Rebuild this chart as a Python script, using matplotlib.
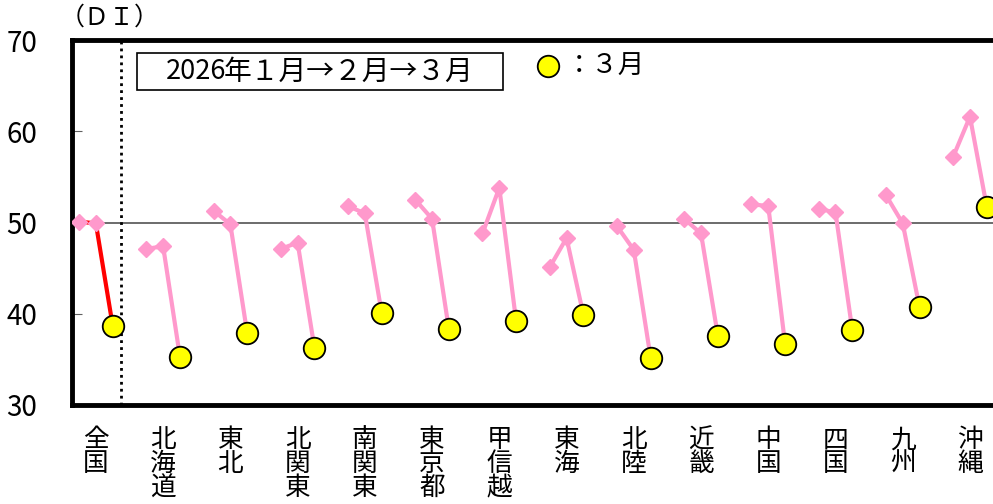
import numpy as np
import matplotlib as mpl
mpl.use('Agg')
import matplotlib.pyplot as plt
from matplotlib.patches import Rectangle

plt.rcParams['font.family'] = ['Noto Sans CJK JP', 'DejaVu Sans']
narrow = ['Liberation Sans Narrow', 'Noto Sans CJK JP']

# DI values
regions = ['全国', '北海道', '東北', '北関東', '南関東', '東京都', '甲信越',
           '東海', '北陸', '近畿', '中国', '四国', '九州', '沖縄']
jan = [50.1, 47.1, 51.3, 47.1, 51.8, 52.5, 48.8, 45.1, 49.6, 50.4, 52.0, 51.5, 53.0, 57.2]
feb = [49.9, 47.4, 49.8, 47.8, 51.0, 50.4, 53.8, 48.3, 47.0, 48.8, 51.8, 51.1, 49.9, 61.6]
mar = [38.7, 35.3, 37.9, 36.3, 40.1, 38.3, 39.2, 39.9, 35.2, 37.6, 36.7, 38.2, 40.7, 51.7]

pink = '#ff99cc'

fig = plt.figure(figsize=(9.93, 5.04), dpi=100)
ax = fig.add_axes([72/993, 99/504, (1012-72)/993, 365/504])

ax.axhline(50, color='#606060', lw=1.3, zorder=1)
ax.axvline(2.5, color='black', lw=2, ls=(0, (1, 1.5)), zorder=1)

for i in range(len(regions)):
    xs = [4*i, 4*i + 1, 4*i + 2]
    ys = [jan[i], feb[i], mar[i]]
    lc = 'red' if i == 0 else pink
    ax.plot(xs, ys, color=lc, lw=3, zorder=2)
    ax.plot(xs[:2], ys[:2], ls='none', marker='D', ms=8.5, color=pink, zorder=3)
    ax.plot(xs[2], ys[2], ls='none', marker='o', ms=15.5, mfc='yellow', mec='black',
            mew=1.3, zorder=4)

ax.set_xlim(-0.42, 55.5)
ax.set_ylim(30, 70)
ax.set_yticks([30, 40, 50, 60, 70])
ax.tick_params(axis='y', direction='in', length=7, color='#606060', pad=25,
               labelsize=20)
for lab in ax.get_yticklabels():
    lab.set_family(narrow)
ax.set_xticks([4*i + 1 for i in range(len(regions))],
              labels=['\n'.join(r) for r in regions])
ax.tick_params(axis='x', length=0, pad=16, labelsize=18.5)
for lab in ax.get_xticklabels():
    lab.set_verticalalignment('top')
    lab.set_linespacing(0.9)

for s in ['left', 'top', 'bottom']:
    ax.spines[s].set_linewidth(3.5)
ax.spines['right'].set_visible(False)

fig.text(60/993, 1 - 18/504, '（ＤＩ）', fontsize=18, va='center', ha='left')

# legend box
fig.add_artist(Rectangle((137/993, 1 - 90/504), 366/993, 37/504,
                         transform=fig.transFigure, fill=False, ec='black', lw=1.2))
fig.text(226/993, 1 - 72/504, '2026', fontsize=19.5, ha='right', va='center',
         family=narrow)
fig.text(224/993, 1 - 72/504, '年１月→２月→３月', fontsize=20,
         ha='left', va='center')
ax.plot([548/993], [1 - 66/504], transform=fig.transFigure, marker='o', ms=15.5,
        mfc='yellow', mec='black', mew=1.3, clip_on=False)
fig.text(566/993, 1 - 66/504, '：３月', fontsize=19, ha='left', va='center')

fig.savefig('out.png', dpi=100)
